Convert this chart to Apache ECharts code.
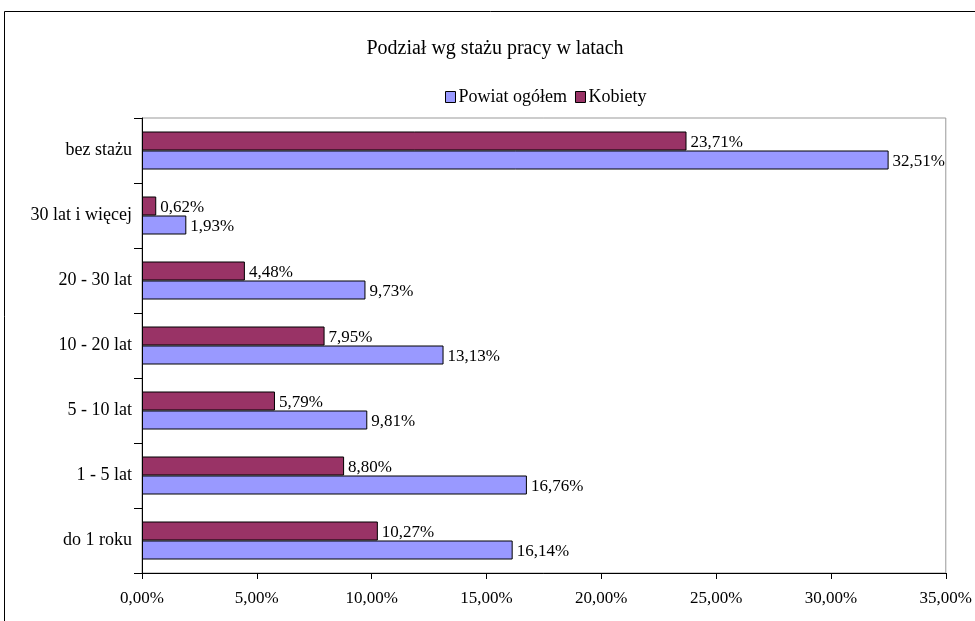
<!DOCTYPE html>
<html>
<head>
<meta charset="utf-8">
<script src="https://cdn.jsdelivr.net/npm/echarts@6/dist/echarts.min.js"></script>
<style>
  html, body { margin: 0; padding: 0; background: #fff; }
  #chart { width: 975px; height: 621px; }
</style>
</head>
<body>
<div id="chart"></div>
<script>
// categories, bottom to top as on the axis
const categories = ['do 1 roku', '1 - 5 lat', '5 - 10 lat', '10 - 20 lat', '20 - 30 lat', '30 lat i więcej', 'bez stażu'];
const powiatOgolem = [16.14, 16.76, 9.81, 13.13, 9.73, 1.93, 32.51];
const kobiety = [10.27, 8.80, 5.79, 7.95, 4.48, 0.62, 23.71];
const seriesNames = ['Powiat ogółem', 'Kobiety'];

const font = '"Liberation Serif", "DejaVu Serif", serif';
const fmt = (v) => v.toFixed(2).replace('.', ',') + '%';

const chart = echarts.init(document.getElementById('chart'));

const labelStyle = {
  show: true,
  position: 'right',
  distance: 4,
  offset: [0, 2],
  fontFamily: font,
  fontSize: 17,
  color: '#000',
  formatter: (p) => fmt(p.value),
};

const option = {
  animation: false,
  textStyle: { fontFamily: font, color: '#000' },
  title: {
    text: 'Podział wg stażu pracy w latach',
    left: 490,
    textAlign: 'center',
    top: 34,
    textStyle: { fontFamily: font, fontSize: 20, fontWeight: 'normal', color: '#000' },
  },
  legend: {
    data: seriesNames,
    left: 440,
    top: 83,
    icon: 'rect',
    itemWidth: 10,
    itemHeight: 11,
    itemGap: 8,
    itemStyle: { borderColor: '#000', borderWidth: 1 },
    textStyle: { fontFamily: font, fontSize: 18, color: '#000', padding: [0, 0, 0, -2] },
  },
  graphic: [
    {
      type: 'rect',
      shape: { x: 4.5, y: 11.5, width: 1000, height: 700 },
      style: { fill: 'none', stroke: '#000', lineWidth: 1 },
      silent: true,
      z: -1,
    },
  ],
  grid: {
    left: 142,
    right: 29,
    top: 118,
    bottom: 48,
    show: true,
    borderColor: '#999',
    borderWidth: 1,
  },
  xAxis: {
    type: 'value',
    min: 0,
    max: 35,
    interval: 5,
    axisLine: { show: true, lineStyle: { color: '#000', width: 1 } },
    axisTick: { show: true, length: 6, lineStyle: { color: '#000' } },
    splitLine: { show: false },
    axisLabel: {
      fontFamily: font,
      fontSize: 17,
      color: '#000',
      margin: 17,
      formatter: (v) => fmt(v),
    },
  },
  yAxis: {
    type: 'category',
    data: categories,
    axisLine: { show: true, lineStyle: { color: '#000', width: 1 } },
    axisTick: { show: true, length: 8, lineStyle: { color: '#000' } },
    axisLabel: { fontFamily: font, fontSize: 18, color: '#000', margin: 10 },
  },
  // Kobiety listed first so it sits above Powiat ogółem in each group
  series: [
    {
      name: seriesNames[1],
      type: 'bar',
      data: kobiety,
      barWidth: 19,
      barGap: '0%',
      itemStyle: { color: '#993366', borderColor: '#000', borderWidth: 1 },
      label: labelStyle,
    },
    {
      name: seriesNames[0],
      type: 'bar',
      data: powiatOgolem,
      barWidth: 19,
      barGap: '0%',
      itemStyle: { color: '#9999FF', borderColor: '#000', borderWidth: 1 },
      label: labelStyle,
    },
  ],
};

chart.setOption(option);
</script>
</body>
</html>
